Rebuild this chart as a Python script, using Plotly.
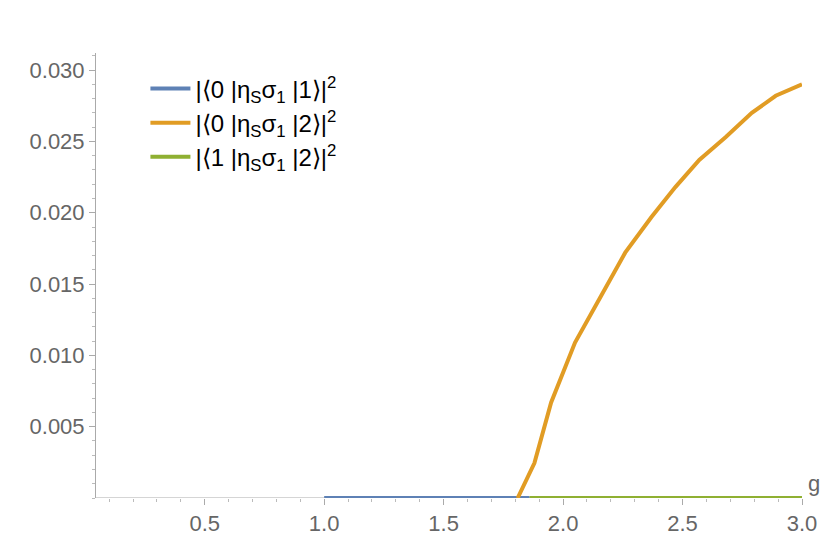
import plotly.graph_objects as go

g_orange = [1.81, 1.88, 1.95, 2.05, 2.16, 2.26, 2.37, 2.47, 2.57, 2.68, 2.79, 2.89, 3.0]
p_orange = [0.0, 0.00245, 0.0067, 0.0109, 0.0142, 0.0172, 0.0197, 0.0218, 0.0237, 0.0253, 0.027, 0.0282, 0.029]
g_blue = [1.0, 1.86]
p_blue = [0.0, 0.0]
g_green = [1.86, 3.0]
p_green = [0.0, 0.0]

y_ticks = [0.005, 0.010, 0.015, 0.020, 0.025, 0.030]
y_labels = ["0.005", "0.010", "0.015", "0.020", "0.025", "0.030"]
x_ticks = [0.5, 1.0, 1.5, 2.0, 2.5, 3.0]
x_labels = ["0.5", "1.0", "1.5", "2.0", "2.5", "3.0"]

names = [
    "|⟨0 |η<sub>S</sub>σ<sub>1</sub> |1⟩|<sup>2</sup>",
    "|⟨0 |η<sub>S</sub>σ<sub>1</sub> |2⟩|<sup>2</sup>",
    "|⟨1 |η<sub>S</sub>σ<sub>1</sub> |2⟩|<sup>2</sup>",
]
colors = ["#5E81B5", "#E19C24", "#8FB032"]

fig = go.Figure()
for gx, py, nm, c in [(g_blue, p_blue, names[0], colors[0]),
                      (g_orange, p_orange, names[1], colors[1]),
                      (g_green, p_green, names[2], colors[2])]:
    fig.add_trace(go.Scatter(x=gx, y=py, mode="lines", name=nm, cliponaxis=False,
                             line=dict(color=c, width=4)))

grey = "#666666"
fig.update_layout(
    width=830, height=542, plot_bgcolor="white", paper_bgcolor="white",
    margin=dict(l=88, r=36, t=45, b=52),
    font=dict(family="Liberation Sans, Arial", size=22, color=grey),
    legend=dict(x=0.07, y=0.97, xanchor="left", yanchor="top",
                font=dict(size=24, color="black"), tracegroupgap=28,
                bgcolor="rgba(0,0,0,0)", itemwidth=40),
    xaxis=dict(range=[0.045, 3.0], tickvals=x_ticks, ticktext=x_labels,
               showgrid=False, zeroline=False, showline=False,
               ticks="outside", ticklen=6, tickcolor="#aaaaaa",
               minor=dict(dtick=0.1, ticks="outside", ticklen=3, tickcolor="#bbbbbb")),
    yaxis=dict(range=[0, 0.0312], tickvals=y_ticks, ticktext=y_labels,
               showgrid=False, zeroline=False, showline=True, linecolor="#aaaaaa",
               ticks="outside", ticklen=6, tickcolor="#aaaaaa",
               minor=dict(dtick=0.001, ticks="outside", ticklen=3, tickcolor="#bbbbbb")),
    showlegend=True,
)
fig.add_shape(type="line", xref="paper", yref="y", x0=0, x1=1, y0=0, y1=0,
              line=dict(color="#aaaaaa", width=1), layer="below")
fig.add_annotation(text="g", xref="paper", yref="y", x=1.005, y=0, xanchor="left",
                   yanchor="bottom", showarrow=False, font=dict(size=22, color=grey))
fig.write_html("out.html")
